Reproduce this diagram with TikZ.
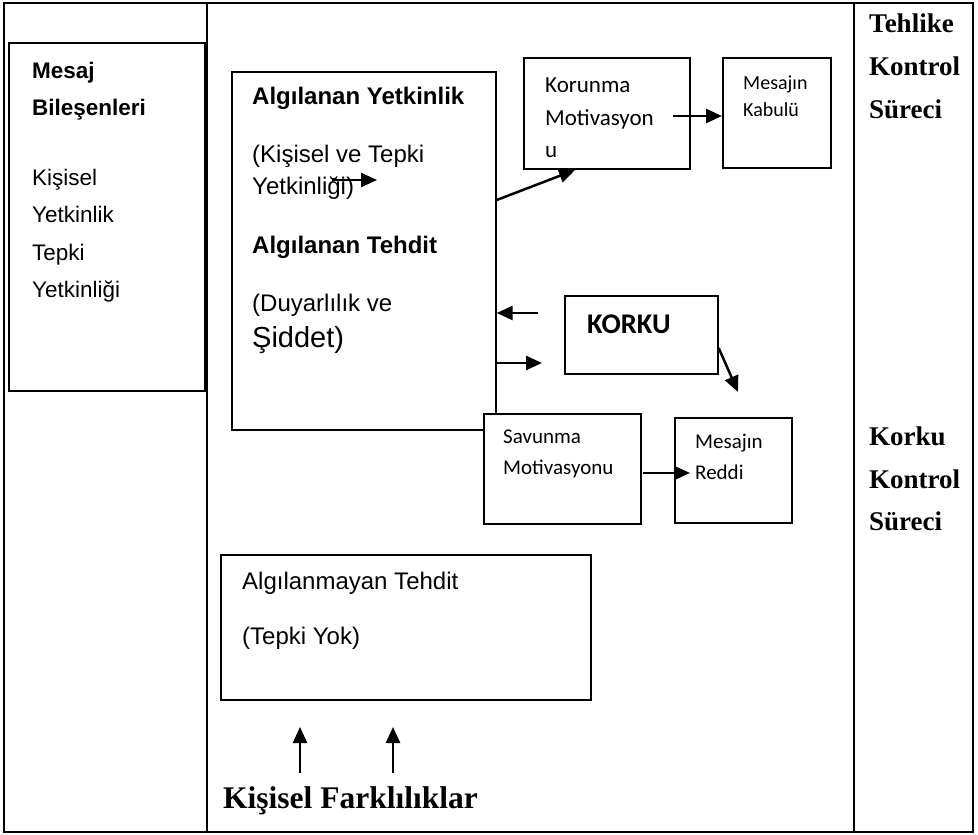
\documentclass[tikz,border=0pt]{standalone}
\usepackage{fontspec}
\setmainfont{Liberation Sans}
\newfontfamily\calfont{Carlito}
\newfontfamily\timesfont{Liberation Serif}
\usepackage{tikz}
\usetikzlibrary{arrows.meta,positioning,calc}
\newcommand{\fs}[1]{\fontsize{#1}{#1}\selectfont}

\begin{document}
\begin{tikzpicture}[x=1pt,y=-1pt,
  kutu/.style={draw,line width=1.7pt,anchor=north west,inner sep=0pt},
  yazi/.style={anchor=base west,inner sep=0pt},
  ok/.style={line width=2.5pt,-{Triangle[length=16pt,width=14pt]}}]
  \useasboundingbox (0,0) rectangle (978,835);
  % table frame
  \draw[line width=2.4pt] (4,3) rectangle (973,832);
  \draw[line width=2.4pt] (207,3)--(207,832) (854,3)--(854,832);

  % boxes
  \node[kutu,minimum width=196pt,minimum height=348pt] (mesaj) at (8,42) {};
  \node[kutu,minimum width=264pt,minimum height=358pt] (algi) at (231,71) {};
  \node[kutu,minimum width=166pt,minimum height=111pt] (korunma) at (523,57) {};
  \node[kutu,minimum width=108pt,minimum height=110pt] (kabul) at (722,57) {};
  \node[kutu,minimum width=153pt,minimum height=78pt] (korku) at (564,295) {};
  \node[kutu,fill=white,minimum width=157pt,minimum height=110pt] (savunma) at (483,413) {};
  \node[kutu,minimum width=117pt,minimum height=105pt] (red) at (674,417) {};
  \node[kutu,minimum width=370pt,minimum height=145pt] (algimayan) at (220,554) {};

  % left column
  \node[yazi,font=\fs{22.5}\bfseries] (m1) at (32,78) {Mesaj};
  \node[yazi,font=\fs{22.5}\bfseries] (m2) at (32,115) {Bileşenleri};
  \node[yazi,font=\fs{22.5}] (m3) at (32,185) {Kişisel};
  \node[yazi,font=\fs{22.5}] (m4) at (32,222) {Yetkinlik};
  \node[yazi,font=\fs{22.5}] (m5) at (32,260) {Tepki};
  \node[yazi,font=\fs{22.5}] (m6) at (32,297) {Yetkinliği};

  % perceived efficacy / threat
  \node[yazi,font=\fs{24}\bfseries] (a1) at (252,104) {Algılanan Yetkinlik};
  \node[yazi,font=\fs{24}] (a2) at (252,162) {(Kişisel ve Tepki};
  \node[yazi,font=\fs{24}] (a3) at (252,194) {Yetkinliği)};
  \node[yazi,font=\fs{24}\bfseries] (a4) at (252,253) {Algılanan Tehdit};
  \node[yazi,font=\fs{24}] (a5) at (252,311) {(Duyarlılık ve};
  \node[yazi,font=\fs{29}] (a6) at (252,347) {Şiddet)};

  \node[yazi,font=\calfont\fs{23}] (k1) at (545,92) {Korunma};
  \node[yazi,font=\calfont\fs{23}] (k2) at (545,125) {Motivasyon};
  \node[yazi,font=\calfont\fs{23}] (k3) at (545,157) {u};
  \node[yazi,font=\calfont\fs{20}] (b1) at (743,89) {Mesajın};
  \node[yazi,font=\calfont\fs{20}] (b2) at (743,116) {Kabulü};
  \node[yazi,font=\calfont\fs{28.5}\bfseries] (f1) at (587,333) {KORKU};
  \node[yazi,font=\calfont\fs{21}] (s1) at (503,443) {Savunma};
  \node[yazi,font=\calfont\fs{21}] (s2) at (503,474) {Motivasyonu};
  \node[yazi,font=\calfont\fs{21}] (r1) at (695,448) {Mesajın};
  \node[yazi,font=\calfont\fs{21}] (r2) at (695,479) {Reddi};

  \node[yazi,font=\fs{24}] (n1) at (242,589) {Algılanmayan Tehdit};
  \node[yazi,font=\fs{24}] (n2) at (242,644) {(Tepki Yok)};
  \node[yazi,font=\timesfont\fs{31.5}\bfseries] (fark) at (223,808) {Kişisel Farklılıklar};

  % right column
  \node[yazi,font=\timesfont\fs{27}\bfseries] (t1) at (869,32) {Tehlike};
  \node[yazi,font=\timesfont\fs{27}\bfseries] (t2) at (869,75) {Kontrol};
  \node[yazi,font=\timesfont\fs{27}\bfseries] (t3) at (869,118) {Süreci};
  \node[yazi,font=\timesfont\fs{27}\bfseries] (t4) at (869,445) {Korku};
  \node[yazi,font=\timesfont\fs{27}\bfseries] (t5) at (869,488) {Kontrol};
  \node[yazi,font=\timesfont\fs{27}\bfseries] (t6) at (869,530) {Süreci};

  % arrows
  \coordinate (y1) at (332,180);  \coordinate (y2) at (377,180);
  \coordinate (g1) at (algi.east |- 0,200);  \coordinate (g2) at (575,170);
  \coordinate (h1) at (673,116);  \coordinate (h2) at (kabul.west |- 0,116);
  \coordinate (c1) at (538,313);  \coordinate (c2) at (algi.east |- 0,313);
  \coordinate (d1) at (algi.east |- 0,363);  \coordinate (d2) at (542,363);
  \coordinate (e1) at (korku.east |- 0,348);  \coordinate (e2) at (738,392);
  \coordinate (v1) at (643,473);  \coordinate (v2) at (690,473);
  \coordinate (p1) at (300,773);  \coordinate (p2) at (300,727);
  \coordinate (q1) at (393,773);  \coordinate (q2) at (393,727);
  \draw[ok] (y1)--(y2);
  \draw[ok] (g1)--(g2);
  \draw[ok] (h1)--(h2);
  \draw[ok] (c1)--(c2);
  \draw[ok] (d1)--(d2);
  \draw[ok] (e1)--(e2);
  \draw[ok] (v1)--(v2);
  \draw[ok] (p1)--(p2);
  \draw[ok] (q1)--(q2);
\end{tikzpicture}
\end{document}
